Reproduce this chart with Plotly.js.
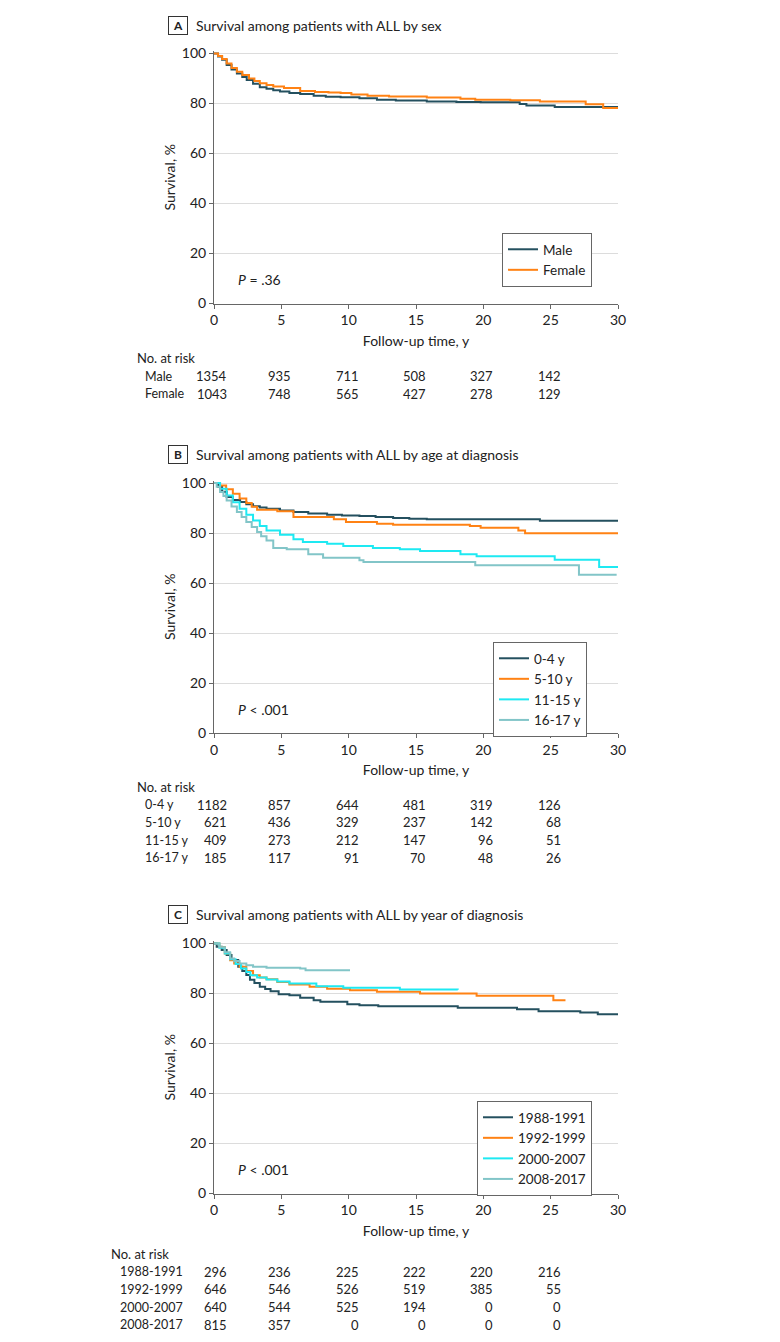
<!DOCTYPE html>
<html>
<head>
<meta charset="utf-8">
<script src="https://cdn.plot.ly/plotly-3.0.1.min.js"></script>
<style>
  html, body { margin: 0; padding: 0; background: #fff; }
  #chart { width: 780px; height: 1342px; }
</style>
</head>
<body>
<div id="chart"></div>
<script>
// --- Data ---
const TICKS = [0, 5, 10, 15, 20, 25, 30];
const RISK_TIMES = [0, 5, 10, 15, 20, 25];

// A: by sex
const maleT = [0, 0.3, 0.6, 0.94, 1.3, 1.7, 2.1, 2.43, 2.9, 3.4, 3.9, 4.4, 4.9, 5.6, 6.4, 7.4, 8.3, 9.4, 10.8, 12.1, 13.5, 15.8, 18, 19.8, 22.7, 23.2, 25.3, 30];
const maleS = [100, 98.8, 97.5, 95.4, 93.6, 92.0, 90.6, 89.4, 87.9, 86.5, 85.9, 85.3, 84.8, 84.2, 83.8, 83.1, 82.7, 82.5, 82.1, 81.5, 81.2, 80.8, 80.6, 80.5, 79.8, 79.2, 78.6, 78.6];
const femaleT = [0, 0.3, 0.6, 0.94, 1.3, 1.7, 2.1, 2.6, 3.0, 3.4, 3.9, 4.4, 5.2, 6.4, 7.5, 8.5, 9.4, 10.2, 11.4, 13, 15.8, 18.3, 19.4, 22, 24.2, 27.6, 28.9, 30];
const femaleS = [100, 99, 97.8, 96, 94.2, 92.7, 91.4, 90, 89, 88.1, 87.4, 86.8, 86.2, 85, 84.6, 84.4, 84.2, 83.6, 83.1, 82.8, 82.4, 81.9, 81.5, 81.3, 80.8, 79.7, 78.2, 78.2];
const sexLabels = ['Male', 'Female'];
const sexRisk = [
  [1354, 935, 711, 508, 327, 142],
  [1043, 748, 565, 427, 278, 129]
];

// B: by age at diagnosis
const age04T = [0, 0.3, 0.6, 0.94, 1.4, 1.94, 2.4, 2.9, 3.4, 3.9, 4.9, 5.9, 7, 8.4, 9.5, 10.8, 12, 13.3, 14.5, 15.8, 24.2, 30];
const age04S = [100, 98.5, 96.5, 94.4, 93.2, 92.4, 91.5, 90.7, 90.2, 89.7, 89, 88.4, 87.8, 87.3, 87, 86.8, 86.4, 86, 85.7, 85.5, 84.9, 84.9];
const age510T = [0, 0.45, 0.9, 1.4, 1.9, 2.4, 2.8, 3.2, 4.7, 5.9, 8.9, 9.8, 12.1, 13.3, 19, 19.8, 22.6, 23.1, 30];
const age510S = [100, 99, 97.5, 95.7, 93.8, 92, 90.5, 89.3, 88.7, 86.4, 85.5, 84.4, 83.7, 83.3, 82.8, 82.1, 81, 79.9, 79.9];
const age1115T = [0, 0.45, 0.94, 1.4, 1.9, 2.4, 2.9, 3.4, 3.9, 4.9, 5.9, 6.6, 8.4, 9.6, 11.8, 13.8, 15.3, 18.3, 19.5, 25.3, 28.6, 30];
const age1115S = [100, 97.7, 95, 92.3, 89.7, 87.3, 85, 82.8, 81, 79.3, 77.5, 76.4, 75.7, 74.8, 74, 73.5, 72.8, 71.5, 70.7, 69.3, 66.4, 66.4];
const age1617T = [0, 0.2, 0.45, 0.7, 0.94, 1.3, 1.7, 2.05, 2.4, 2.8, 3.2, 3.5, 3.9, 4.4, 5.4, 7.0, 8.1, 10.8, 11.1, 19.4, 27.1, 29.9];
const age1617S = [100, 98.5, 96.4, 94.8, 93, 90.6, 88.4, 86.4, 84.4, 82.4, 80.4, 78.7, 77, 74, 73.5, 71.5, 70.1, 69.1, 68.4, 67.1, 63.3, 63.3];
const ageLabels = ['0-4 y', '5-10 y', '11-15 y', '16-17 y'];
const ageRisk = [
  [1182, 857, 644, 481, 319, 126],
  [621, 436, 329, 237, 142, 68],
  [409, 273, 212, 147, 96, 51],
  [185, 117, 91, 70, 48, 26]
];

// C: by year of diagnosis
const yr8891T = [0, 0.2, 0.57, 0.94, 1.3, 1.8, 2.1, 2.4, 2.67, 3.0, 3.4, 3.8, 4.2, 4.8, 5.6, 6.4, 7.4, 7.9, 9.9, 10.8, 12.2, 18.1, 22.5, 24.1, 27.2, 28.5, 30];
const yr8891S = [100, 98.7, 97.4, 95.4, 93.4, 90.7, 89, 87.4, 85.5, 84.2, 82.7, 81.8, 80.9, 79.7, 79.3, 78.3, 77.3, 76.7, 75.7, 75.3, 74.9, 74.3, 73.7, 72.9, 72.4, 71.7, 71.7];
const yr9299T = [0, 0.4, 0.8, 1.2, 1.5, 1.9, 2.4, 2.9, 3.4, 3.9, 4.7, 5.6, 7.1, 8.4, 10.1, 12.1, 15.3, 19.5, 25.2, 26.1];
const yr9299S = [100, 98.6, 96, 93.3, 92, 90.7, 89, 87.3, 86.4, 85.7, 84.6, 83.6, 82.7, 81.9, 81.3, 80.7, 80, 79.1, 77.3, 77.3];
const yr0007T = [0, 0.4, 0.8, 1.2, 1.6, 2.0, 2.4, 2.7, 3.2, 3.9, 4.7, 5.6, 7.6, 9.6, 13.8, 18.1];
const yr0007S = [100, 98.3, 96, 93.7, 91.8, 90, 88.6, 87.3, 86.4, 85.6, 84.8, 84, 82.9, 82.3, 81.6, 81.5];
const yr0817T = [0, 0.4, 0.8, 1.2, 1.5, 1.9, 2.4, 2.9, 3.9, 6.4, 6.8, 10.1];
const yr0817S = [100, 98.5, 96.5, 94, 93, 92, 91.3, 90.7, 90.3, 90, 89.3, 89.3];
const yearLabels = ['1988-1991', '1992-1999', '2000-2007', '2008-2017'];
const yearRisk = [
  [296, 236, 225, 222, 220, 216],
  [646, 546, 526, 519, 385, 55],
  [640, 544, 525, 194, 0, 0],
  [815, 357, 0, 0, 0, 0]
];

const COLORS = ['#24505f', '#ff8214', '#1ee9f2', '#82c5c8'];

// --- Page geometry (pixels, converted to paper coords) ---
const W = 780, H = 1342;
const px = v => v / W;
const py = v => 1 - v / H;
const X0 = 214, X1 = 618;      // x=0 and x=30
const PX_PER_PCT = 2.5;
const FONT = 'Lato, "Open Sans", sans-serif';

const panels = [
  { letter: 'A', title: 'Survival among patients with ALL by sex', zero: 303.5,
    series: [[maleT, maleS], [femaleT, femaleS]], labels: sexLabels, risk: sexRisk,
    pText: '<i>P</i> = .36', legend: { x: 502, y: 233 }, labelX: 143, headX: 135, headGap: 55 },
  { letter: 'B', title: 'Survival among patients with ALL by age at diagnosis', zero: 733,
    series: [[age04T, age04S], [age510T, age510S], [age1115T, age1115S], [age1617T, age1617S]],
    labels: ageLabels, risk: ageRisk,
    pText: '<i>P</i> &lt; .001', legend: { x: 493, y: 642 }, labelX: 143, headX: 135, headGap: 54 },
  { letter: 'C', title: 'Survival among patients with ALL by year of diagnosis', zero: 1193.5,
    series: [[yr8891T, yr8891S], [yr9299T, yr9299S], [yr0007T, yr0007S], [yr0817T, yr0817S]],
    labels: yearLabels, risk: yearRisk,
    pText: '<i>P</i> &lt; .001', legend: { x: 477, y: 1101 }, labelX: 118, headX: 109, headGap: 60.5 }
];

const traces = [];
const annotations = [];
const layout = {
  width: W, height: H,
  margin: { l: 0, r: 0, t: 0, b: 0 },
  paper_bgcolor: '#fff', plot_bgcolor: '#fff',
  font: { family: FONT, size: 13, color: '#222' },
  showlegend: true,
  annotations: annotations
};

panels.forEach((p, k) => {
  const n = k === 0 ? '' : String(k + 1);
  const xa = 'x' + n, ya = 'y' + n;
  const legendId = 'legend' + n;

  p.series.forEach(([t, s], i) => {
    traces.push({
      x: t, y: s, type: 'scatter', mode: 'lines',
      line: { color: COLORS[i], width: 2, shape: 'hv' },
      name: p.labels[i], xaxis: xa, yaxis: ya, legend: legendId,
      hoverinfo: 'skip'
    });
  });

  const yTop = p.zero - 101 * PX_PER_PCT;
  layout['xaxis' + n] = {
    domain: [px(X0), px(X1)], anchor: ya, range: [0, 30],
    tickvals: TICKS, ticks: 'outside', ticklen: 4, tickcolor: '#666',
    showline: true, linecolor: '#666', linewidth: 1, showgrid: false, zeroline: false,
    tickfont: { size: 14, color: '#222' },
    title: { text: 'Follow-up time, y', font: { size: 14, color: '#222' }, standoff: 8 }
  };
  layout['yaxis' + n] = {
    domain: [py(p.zero), py(yTop)], anchor: xa, range: [0, 101],
    tickvals: [0, 20, 40, 60, 80, 100], ticks: 'outside', ticklen: 4, tickcolor: '#666',
    showline: true, linecolor: '#666', linewidth: 1,
    showgrid: true, gridcolor: '#dcdcdc', gridwidth: 1, zeroline: false,
    tickfont: { size: 14, color: '#222' },
    title: { text: 'Survival, %', font: { size: 14, color: '#222' }, standoff: 2 }
  };
  layout[legendId] = {
    x: px(p.legend.x), y: py(p.legend.y), xref: 'paper', yref: 'paper',
    xanchor: 'left', yanchor: 'top',
    bordercolor: '#666', borderwidth: 1, bgcolor: '#fff',
    font: { size: 13.5, color: '#222' }, tracegroupgap: 0
  };

  // panel letter box and title
  const titleY = p.zero - 278.5;
  annotations.push({
    text: '<b>' + p.letter + '</b>', xref: 'paper', yref: 'paper',
    x: px(168), y: py(titleY), xanchor: 'left', yanchor: 'middle',
    showarrow: false, font: { size: 12, color: '#222' },
    bordercolor: '#333', borderwidth: 1, borderpad: 3, width: 12, height: 11
  });
  annotations.push({
    text: p.title, xref: 'paper', yref: 'paper',
    x: px(194), y: py(titleY), xanchor: 'left', yanchor: 'middle',
    showarrow: false, font: { size: 14, color: '#222' }
  });

  // P value
  annotations.push({
    text: p.pText, xref: xa, yref: ya, x: 1.65, y: 9.5,
    xanchor: 'left', yanchor: 'middle', showarrow: false,
    font: { size: 14, color: '#222' }
  });

  // numbers at risk
  const headY = p.zero + p.headGap;
  annotations.push({
    text: 'No. at risk', xref: 'paper', yref: 'paper',
    x: px(p.headX), y: py(headY), xanchor: 'left', yanchor: 'middle',
    showarrow: false, font: { size: 13, color: '#222' }
  });
  p.risk.forEach((row, r) => {
    const rowY = headY + 17.7 * (r + 1);
    annotations.push({
      text: p.labels[r], xref: 'paper', yref: 'paper',
      x: px(p.labelX), y: py(rowY), xanchor: 'left', yanchor: 'middle',
      showarrow: false, font: { size: 12.5, color: '#222' }
    });
    row.forEach((v, c) => {
      annotations.push({
        text: String(v), xref: xa, yref: 'paper',
        x: RISK_TIMES[c], y: py(rowY), xanchor: 'right', yanchor: 'middle',
        xshift: c === 0 ? 15 : 12, showarrow: false,
        font: { size: 13, color: '#222' }
      });
    });
  });
});

Plotly.newPlot('chart', traces, layout, { displayModeBar: false, staticPlot: true });
</script>
</body>
</html>
